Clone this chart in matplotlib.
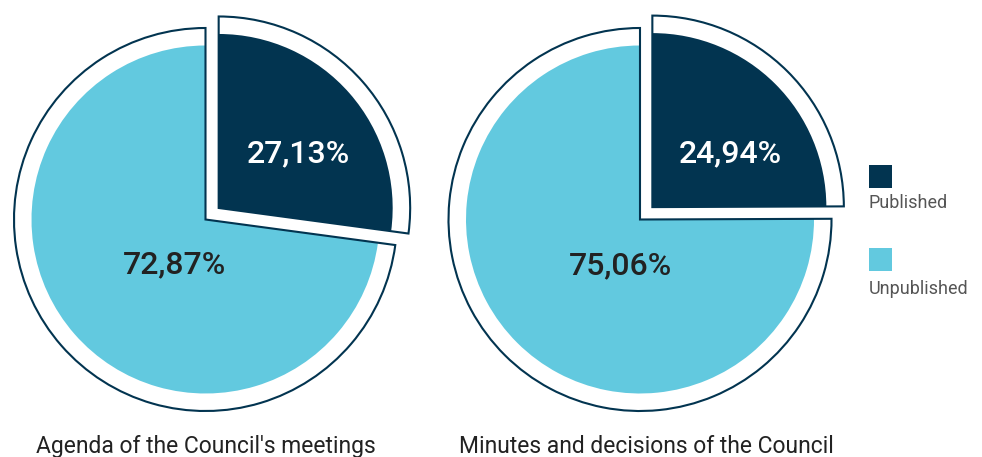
import matplotlib
matplotlib.use('Agg')
import matplotlib.pyplot as plt
from matplotlib.patches import Rectangle

# ---- data ----
categories = ['Published', 'Unpublished']
chart_titles = ["Agenda of the Council's meetings", "Minutes and decisions of the Council"]
agenda_values = [27.13, 72.87]
minutes_values = [24.94, 75.06]

# ---- style ----
NAVY = '#023450'
LIGHT = '#62C9DF'
TEXT = '#222222'
GRAY = '#555555'
FONT = 'Roboto'

W, H = 982, 457
fig = plt.figure(figsize=(W / 100, H / 100), dpi=100)
ax = fig.add_axes([0, 0, 1, 1])


def py(y):
    return H - y


pies = [
    dict(values=agenda_values, title=chart_titles[0], center=(205.5, py(219.5)),
         label_xy=[(298, py(154)), (175, py(265))], title_xy=(206, py(453))),
    dict(values=minutes_values, title=chart_titles[1], center=(640, py(219.5)),
         label_xy=[(730, py(154)), (621, py(266))], title_xy=(646, py(453))),
]
R_OUT = 191.5
R_IN = 174
SHIFT = 17.5
LW = 1.5

for p in pies:
    vals = p['values']
    c = p['center']
    # white padding wedges
    ax.pie(vals, radius=R_OUT, center=c, startangle=90, counterclock=False,
           explode=[SHIFT, 0], colors=['white', 'white'],
           wedgeprops=dict(linewidth=0))
    # coloured inner wedges
    ax.pie(vals, radius=R_IN, center=c, startangle=90, counterclock=False,
           explode=[SHIFT, 0], colors=[NAVY, LIGHT],
           wedgeprops=dict(linewidth=0))
    # outline
    wedges, _ = ax.pie(vals, radius=R_OUT, center=c, startangle=90, counterclock=False,
                       explode=[SHIFT, 0],
                       wedgeprops=dict(fill=False, edgecolor=NAVY, linewidth=LW))
    for w in wedges:
        w.set_joinstyle('miter')
    # value labels
    for v, (x, y), col in zip(vals, p['label_xy'], ['white', TEXT]):
        ax.text(x, y, f"{v:.2f}".replace('.', ',') + '%', ha='center', va='center',
                fontsize=23, color=col, family=FONT, fontweight='medium')
    ax.text(p['title_xy'][0], p['title_xy'][1], p['title'], ha='center', va='baseline',
            fontsize=16.5, color=TEXT, family=FONT)

# legend
legend_items = [(categories[0], NAVY, py(188), py(203)),
                (categories[1], LIGHT, py(271), py(289))]
for name, col, ysq, ytxt in legend_items:
    ax.add_patch(Rectangle((869, ysq), 23, 23, facecolor=col, edgecolor='none'))
    ax.text(869, ytxt, name, ha='left', va='center', fontsize=13, color=GRAY, family=FONT)

ax.set_xlim(0, W)
ax.set_ylim(0, H)
ax.set_aspect('auto')
ax.axis('off')
fig.savefig('out.png', dpi=100)
